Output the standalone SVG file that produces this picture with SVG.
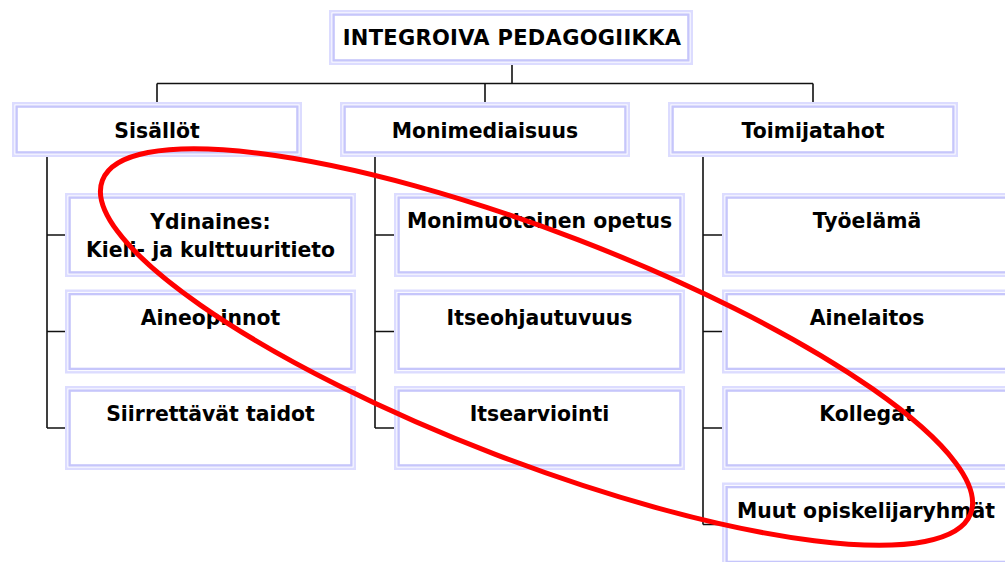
<svg xmlns="http://www.w3.org/2000/svg" width="1005" height="562" viewBox="0 0 1005 562">
<style>
.o{fill:#ffffff;stroke:#dcdcff;stroke-width:2.4}
.i{fill:#ffffff;stroke:#c6c6fb;stroke-width:2.4}
.t{font-family:"DejaVu Sans","Verdana",sans-serif;font-weight:bold;font-size:20.4px;fill:#000;text-anchor:middle}
.ttl{font-size:21px;letter-spacing:0.3px}
.c{fill:none;stroke:#111;stroke-width:1.6}
</style>
<rect width="1005" height="562" fill="#ffffff"/>
<g id="connectors">
<path class="c" d="M512 65V83.5M157 83.5H813M157 83.5V102M485 83.5V102M813 83.5V102"/>
<path class="c" d="M47 157V428M47 235H65M47 331.5H65M47 428H65"/>
<path class="c" d="M375 157V428M375 235H394M375 331.5H394M375 428H394"/>
<path class="c" d="M703 157V524.5M703 235H722M703 331.5H722M703 428H722M703 524.5H722"/>
</g>
<g id="n-top"><rect class="o" x="330.2" y="11.2" width="361.6" height="52.6"/><rect class="i" x="333.6" y="14.6" width="354.8" height="45.8"/><text class="t ttl" x="512" y="45">INTEGROIVA PEDAGOGIIKKA</text></g>
<g id="n-sisallot"><rect class="o" x="13.2" y="103.2" width="287.6" height="52.6"/><rect class="i" x="16.6" y="106.6" width="280.8" height="45.8"/><text class="t" x="157" y="138">Sisällöt</text></g>
<g id="n-monimediaisuus"><rect class="o" x="341.2" y="103.2" width="287.6" height="52.6"/><rect class="i" x="344.6" y="106.6" width="280.8" height="45.8"/><text class="t" x="485" y="138">Monimediaisuus</text></g>
<g id="n-toimijatahot"><rect class="o" x="669.2" y="103.2" width="287.6" height="52.6"/><rect class="i" x="672.6" y="106.6" width="280.8" height="45.8"/><text class="t" x="813" y="138">Toimijatahot</text></g>
<g id="n-ydinaines"><rect class="o" x="66.2" y="194.2" width="288.6" height="81.6"/><rect class="i" x="69.6" y="197.6" width="281.8" height="74.8"/><text class="t" x="210.5" y="229">Ydinaines:</text><text class="t" x="210.5" y="257">Kieli- ja kulttuuritieto</text></g>
<g id="n-aineopinnot"><rect class="o" x="66.2" y="290.7" width="288.6" height="81.6"/><rect class="i" x="69.6" y="294.1" width="281.8" height="74.8"/><text class="t" x="210.5" y="325">Aineopinnot</text></g>
<g id="n-siirrettavat"><rect class="o" x="66.2" y="387.2" width="288.6" height="81.6"/><rect class="i" x="69.6" y="390.6" width="281.8" height="74.8"/><text class="t" x="210.5" y="421">Siirrettävät taidot</text></g>
<g id="n-monimuotoinen"><rect class="o" x="395.2" y="194.2" width="288.6" height="81.6"/><rect class="i" x="398.6" y="197.6" width="281.8" height="74.8"/><text class="t" x="539.5" y="228">Monimuotoinen opetus</text></g>
<g id="n-itseohjautuvuus"><rect class="o" x="395.2" y="290.7" width="288.6" height="81.6"/><rect class="i" x="398.6" y="294.1" width="281.8" height="74.8"/><text class="t" x="539.5" y="325">Itseohjautuvuus</text></g>
<g id="n-itsearviointi"><rect class="o" x="395.2" y="387.2" width="288.6" height="81.6"/><rect class="i" x="398.6" y="390.6" width="281.8" height="74.8"/><text class="t" x="539.5" y="421">Itsearviointi</text></g>
<g id="n-tyoelama"><rect class="o" x="723.2" y="194.2" width="288.6" height="81.6"/><rect class="i" x="726.6" y="197.6" width="281.8" height="74.8"/><text class="t" x="867" y="228">Työelämä</text></g>
<g id="n-ainelaitos"><rect class="o" x="723.2" y="290.7" width="288.6" height="81.6"/><rect class="i" x="726.6" y="294.1" width="281.8" height="74.8"/><text class="t" x="867" y="325">Ainelaitos</text></g>
<g id="n-kollegat"><rect class="o" x="723.2" y="387.2" width="288.6" height="81.6"/><rect class="i" x="726.6" y="390.6" width="281.8" height="74.8"/><text class="t" x="867" y="421">Kollegat</text></g>
<g id="n-muut"><rect class="o" x="723.2" y="483.7" width="288.6" height="81.6"/><rect class="i" x="726.6" y="487.1" width="281.8" height="74.8"/><text class="t" x="866" y="517.5">Muut opiskelijaryhmät</text></g>
<ellipse id="highlight" cx="536.5" cy="347" rx="465" ry="115" transform="rotate(21 536.5 347)" fill="none" stroke="#ff0000" stroke-width="5"/>
</svg>
